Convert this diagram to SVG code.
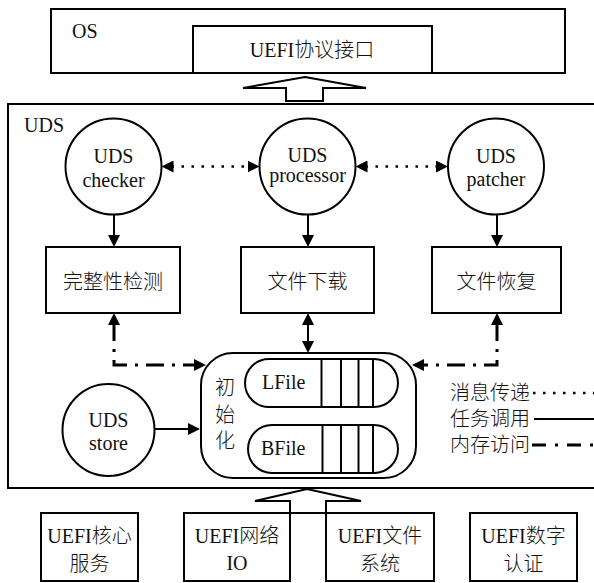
<svg xmlns="http://www.w3.org/2000/svg" width="594" height="583" viewBox="0 0 594 583">
<style>
  .t { font-family: "Liberation Serif", "Noto Sans CJK SC", serif; font-size: 20px; font-weight: 300; fill: #111; }
  .m { text-anchor: middle; }
  .box { fill: #fff; stroke: #000; stroke-width: 2; }
  .ln { fill: none; stroke: #000; stroke-width: 2; }
  .dot { fill: none; stroke: #000; stroke-width: 2.5; stroke-dasharray: 2.5 7.5; }
  .dd { fill: none; stroke: #000; stroke-width: 3; stroke-dasharray: 18 8 3 8; }
  .hollow { fill: #fff; stroke: #000; stroke-width: 2; stroke-linejoin: miter; }
</style>
<defs>
  <marker id="ah" markerUnits="userSpaceOnUse" markerWidth="12" markerHeight="12" refX="2" refY="6" orient="auto-start-reverse" viewBox="0 0 12 12">
    <path d="M0,0 L12,6 L0,12 z" fill="#000"/>
  </marker>
</defs>

<g id="os">
  <rect class="box" x="51" y="9" width="514" height="64"/>
  <text class="t" x="72" y="38">OS</text>
</g>
<g id="uefi-protocol">
  <rect class="box" x="193" y="26" width="239" height="47"/>
  <text class="t m" x="312" y="57">UEFI协议接口</text>
</g>

<g id="uds">
  <rect class="box" x="8" y="104" width="600" height="384"/>
  <text class="t" x="24" y="132">UDS</text>
</g>

<g id="up-arrow-top">
  <polygon class="hollow" points="305,77 366,88 323,88 323,101 286,101 286,88 243,88"/>
</g>

<g id="checker">
  <circle class="box" cx="113.5" cy="166.5" r="48"/>
  <text class="t m" x="113.5" y="163">UDS</text>
  <text class="t m" x="113.5" y="187">checker</text>
</g>
<g id="processor">
  <circle class="box" cx="307.5" cy="166.5" r="48"/>
  <text class="t m" x="307.5" y="162">UDS</text>
  <text class="t m" x="307.5" y="182">processor</text>
</g>
<g id="patcher">
  <circle class="box" cx="496" cy="166.5" r="48"/>
  <text class="t m" x="496" y="163">UDS</text>
  <text class="t m" x="496" y="186">patcher</text>
</g>

<g id="integrity-check">
  <rect class="box" x="46" y="247" width="134" height="66"/>
  <text class="t m" x="113" y="289">完整性检测</text>
</g>
<g id="file-download">
  <rect class="box" x="241" y="247" width="133" height="66"/>
  <text class="t m" x="307.5" y="289">文件下载</text>
</g>
<g id="file-restore">
  <rect class="box" x="432" y="247" width="129" height="66"/>
  <text class="t m" x="496.5" y="289">文件恢复</text>
</g>

<g id="store">
  <circle class="box" cx="108.5" cy="430" r="46"/>
  <text class="t m" x="108.5" y="427">UDS</text>
  <text class="t m" x="108.5" y="450">store</text>
</g>

<g id="init">
  <rect class="box" x="201" y="353" width="215" height="125" rx="32" ry="32"/>
  <text class="t m" x="225" y="395">初</text>
  <text class="t m" x="225" y="422">始</text>
  <text class="t m" x="225" y="448">化</text>
</g>
<g id="lfile">
  <rect class="box" x="245" y="359" width="153" height="48" rx="24" ry="24"/>
  <line class="ln" x1="321.5" y1="359" x2="321.5" y2="407" stroke-width="2.5"/>
  <line class="ln" x1="341" y1="359" x2="341" y2="407"/>
  <line class="ln" x1="358.5" y1="359" x2="358.5" y2="407"/>
  <line class="ln" x1="373" y1="359" x2="373" y2="407"/>
  <text class="t" x="262" y="389">LFile</text>
</g>
<g id="bfile">
  <rect class="box" x="248" y="425" width="150" height="48" rx="24" ry="24"/>
  <line class="ln" x1="322.5" y1="425" x2="322.5" y2="473" stroke-width="2.5"/>
  <line class="ln" x1="341" y1="425" x2="341" y2="473"/>
  <line class="ln" x1="358.5" y1="425" x2="358.5" y2="473"/>
  <line class="ln" x1="373" y1="425" x2="373" y2="473"/>
  <text class="t" x="261" y="455">BFile</text>
</g>

<g id="legend">
  <text class="t" x="450" y="400">消息传递</text>
  <text class="t" x="450" y="426">任务调用</text>
  <text class="t" x="450" y="452">内存访问</text>
  <line class="dot" x1="533" y1="393" x2="596" y2="393"/>
  <line class="ln" x1="534" y1="419" x2="596" y2="419"/>
  <line class="dd" x1="532" y1="445" x2="596" y2="445" style="stroke-dasharray:14 9 3 9"/>
</g>

<g id="up-arrow-bottom">
  <polygon class="hollow" points="307,489 361,501 326,501 326,513 290,513 290,501 255,501"/>
</g>
<g id="uefi-core">
  <rect class="box" x="41" y="513" width="97" height="68"/>
  <text class="t m" x="89.5" y="543">UEFI核心</text>
  <text class="t m" x="89.5" y="571">服务</text>
</g>
<g id="uefi-net">
  <rect class="box" x="184" y="513" width="106" height="68"/>
  <text class="t m" x="237" y="543">UEFI网络</text>
  <text class="t m" x="237" y="570">IO</text>
</g>
<g id="uefi-fs">
  <rect class="box" x="326" y="513" width="108" height="68"/>
  <text class="t m" x="380" y="543">UEFI文件</text>
  <text class="t m" x="380" y="571">系统</text>
</g>
<g id="uefi-sig">
  <rect class="box" x="470" y="513" width="107" height="68"/>
  <text class="t m" x="523.5" y="543">UEFI数字</text>
  <text class="t m" x="523.5" y="571">认证</text>
</g>

<g id="connectors">
  <line class="dot" x1="171.5" y1="166.5" x2="249.5" y2="166.5" marker-start="url(#ah)" marker-end="url(#ah)"/>
  <line class="dot" x1="365.5" y1="166.5" x2="438" y2="166.5" marker-start="url(#ah)" marker-end="url(#ah)"/>
  <line class="ln" x1="114" y1="214.5" x2="114" y2="237" marker-end="url(#ah)"/>
  <line class="ln" x1="308" y1="214.5" x2="308" y2="237" marker-end="url(#ah)"/>
  <line class="ln" x1="497" y1="214.5" x2="497" y2="237" marker-end="url(#ah)"/>
  <line class="ln" x1="308" y1="323" x2="308" y2="343" marker-start="url(#ah)" marker-end="url(#ah)"/>
  <path class="dd" d="M114,323 V365 H196" marker-start="url(#ah)" marker-end="url(#ah)"/>
  <path class="dd" d="M497,323 V365 H422" marker-start="url(#ah)" marker-end="url(#ah)"/>
  <line class="ln" x1="154.5" y1="429" x2="190" y2="429" marker-end="url(#ah)"/>
</g>
</svg>
